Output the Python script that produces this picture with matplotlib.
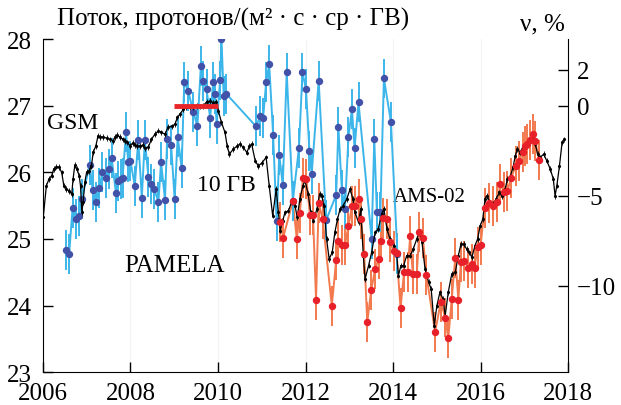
import numpy as np
import matplotlib.pyplot as plt
from matplotlib.ticker import NullLocator

FLUX_REF = 27.0  # flux that corresponds to nu = 0

# GSM (neutron monitor derived variation, %)
gsm_year = [
    2006.01, 2006.08, 2006.14, 2006.20, 2006.25, 2006.31, 2006.37, 2006.43, 2006.48, 2006.54,
    2006.60, 2006.66, 2006.69, 2006.73, 2006.78, 2006.83, 2006.86, 2006.89, 2006.92, 2006.96,
    2007.00, 2007.06, 2007.11, 2007.15, 2007.21, 2007.26, 2007.30, 2007.37, 2007.46, 2007.53,
    2007.61, 2007.65, 2007.70, 2007.76, 2007.82, 2007.87, 2007.93, 2007.99, 2008.05, 2008.10,
    2008.16, 2008.22, 2008.29, 2008.33, 2008.41, 2008.48, 2008.56, 2008.64, 2008.71, 2008.79,
    2008.86, 2008.94, 2009.02, 2009.07, 2009.13, 2009.21, 2009.28, 2009.36, 2009.44, 2009.51,
    2009.59, 2009.66, 2009.74, 2009.82, 2009.89, 2009.95, 2010.01, 2010.08, 2010.16, 2010.21,
    2010.26, 2010.35, 2010.44, 2010.50, 2010.58, 2010.66, 2010.72, 2010.77, 2010.85, 2010.92,
    2011.00, 2011.10, 2011.17, 2011.25, 2011.33, 2011.38, 2011.42, 2011.48, 2011.53, 2011.61,
    2011.68, 2011.76, 2011.81, 2011.87, 2011.94, 2011.99, 2012.06, 2012.12, 2012.18, 2012.26,
    2012.32, 2012.37, 2012.42, 2012.48, 2012.54, 2012.61, 2012.67, 2012.73, 2012.79, 2012.86,
    2012.94, 2013.02, 2013.08, 2013.13, 2013.21, 2013.26, 2013.32, 2013.36, 2013.44, 2013.51,
    2013.59, 2013.66, 2013.74, 2013.79, 2013.86, 2013.93, 2014.01, 2014.08, 2014.12, 2014.18,
    2014.24, 2014.31, 2014.39, 2014.46, 2014.54, 2014.60, 2014.66, 2014.73, 2014.81, 2014.87,
    2014.94, 2015.00, 2015.07, 2015.14, 2015.19, 2015.26, 2015.34, 2015.42, 2015.49, 2015.55,
    2015.61, 2015.68, 2015.74, 2015.80, 2015.87, 2015.93, 2015.99, 2016.05, 2016.10, 2016.14,
    2016.22, 2016.29, 2016.35, 2016.43, 2016.48, 2016.56, 2016.61, 2016.67, 2016.74, 2016.79,
    2016.84, 2016.90, 2016.96, 2017.02, 2017.07, 2017.13, 2017.19, 2017.25, 2017.30, 2017.36,
    2017.44, 2017.51, 2017.59, 2017.66, 2017.70, 2017.74, 2017.80, 2017.86, 2017.91,
]
gsm_nu = [
    -6.19, -4.45, -4.08, -3.89, -3.52, -3.39, -3.41, -3.71, -4.45, -4.63,
    -4.73, -4.91, -4.08, -3.30, -3.52, -3.89, -4.45, -5.91, -5.36, -4.24,
    -3.69, -3.62, -3.34, -2.58, -2.24, -1.67, -1.74, -1.73, -1.80, -1.86,
    -1.95, -1.74, -1.63, -1.74, -1.86, -1.95, -2.04, -2.23, -2.08, -2.19,
    -2.23, -2.23, -2.19, -2.36, -2.30, -1.86, -1.58, -1.39, -1.48, -1.58,
    -1.19, -1.15, -1.02, -0.65, -0.47, -0.19, -0.09, -0.09, -0.06, -0.01,
    -0.04, -0.01, 0.22, 0.26, 0.18, 0.22, -0.28, -0.93, -1.48, -2.23,
    -2.69, -2.41, -2.23, -2.13, -2.32, -2.60, -2.23, -2.13, -3.06, -3.34,
    -3.19, -2.87, -4.45, -6.12, -4.63, -5.93, -6.95, -6.39, -5.93, -5.84,
    -5.37, -5.56, -6.21, -5.19, -4.45, -4.17, -4.91, -5.93, -6.39, -5.74,
    -4.91, -5.01, -5.56, -7.41, -8.52, -8.15, -7.04, -6.30, -5.74, -5.56,
    -5.19, -4.63, -5.19, -5.93, -6.48, -5.74, -8.34, -9.63, -8.89, -8.15,
    -7.04, -6.86, -6.02, -5.74, -6.86, -7.41, -7.78, -8.15, -9.45, -8.89,
    -8.89, -8.34, -8.34, -7.97, -7.41, -7.04, -7.60, -9.08, -9.80, -10.19,
    -12.23, -11.12, -10.37, -10.74, -11.67, -10.37, -9.36, -9.26, -8.34, -7.69,
    -7.69, -7.97, -8.15, -8.43, -7.78, -7.41, -6.67, -6.30, -5.19, -5.01,
    -5.37, -5.47, -5.19, -4.82, -5.01, -4.63, -4.08, -3.98, -3.43, -2.78,
    -2.41, -2.60, -2.32, -2.23, -2.04, -1.86, -1.67, -2.13, -2.69, -2.87,
    -2.69, -3.06, -3.52, -4.08, -5.01, -4.45, -3.34, -2.04, -1.86,
]
GSM_ERR = 0.15

# PAMELA, 10 GV proton flux
pamela_year = [
    2006.54, 2006.60, 2006.68, 2006.75, 2006.83, 2006.89, 2007.07, 2007.14, 2007.21, 2007.29,
    2007.36, 2007.44, 2007.52, 2007.57, 2007.67, 2007.72, 2007.78, 2007.82, 2007.90, 2007.95,
    2008.00, 2008.10, 2008.18, 2008.26, 2008.33, 2008.41, 2008.48, 2008.54, 2008.64, 2008.70,
    2008.79, 2008.84, 2008.93, 2009.01, 2009.08, 2009.17, 2009.23, 2009.32, 2009.44, 2009.53,
    2009.61, 2009.66, 2009.74, 2009.82, 2009.89, 2009.93, 2009.97, 2010.05, 2010.08, 2010.13,
    2010.19,
    2010.87, 2010.96, 2011.03, 2011.10, 2011.17, 2011.26, 2011.34, 2011.40, 2011.48, 2011.57,
    2011.71, 2011.85, 2011.93, 2012.01, 2012.09, 2012.14, 2012.30, 2012.47, 2012.70, 2012.75,
    2012.83, 2012.90, 2012.98, 2013.06, 2013.12, 2013.21, 2013.51, 2013.57, 2013.63, 2013.71,
    2013.79, 2013.95, 2014.10,
]
pamela_flux = [
    24.84, 24.77, 25.47, 25.30, 25.35, 25.60, 26.11, 25.73, 25.55, 25.77,
    26.01, 25.92, 26.05, 26.22, 25.69, 25.87, 25.90, 25.91, 26.60, 26.15,
    26.17, 25.80, 26.49, 25.62, 26.49, 25.93, 25.82, 25.75, 25.56, 26.15,
    25.59, 26.50, 26.41, 25.60, 26.53, 26.07, 27.36, 27.22, 26.90, 26.69,
    27.60, 27.37, 27.25, 26.82, 27.35, 27.17, 26.73, 27.38, 28.00, 27.15,
    27.18,
    26.69, 26.84, 26.81, 27.35, 27.62, 26.56, 25.27, 26.26, 25.81, 27.50,
    25.57, 26.37, 27.50, 27.25, 26.32, 25.97, 27.37, 25.28, 25.66, 26.68,
    25.73, 25.45, 26.53, 26.95, 26.36, 27.05, 25.00, 26.50, 25.40, 25.40,
    27.41, 26.76, 24.77,
]
PAMELA_ERR = 0.3

# AMS-02, 10 GV proton flux
ams_year = [
    2011.42, 2011.49, 2011.71, 2011.80, 2011.87, 2011.94, 2012.02, 2012.10, 2012.17, 2012.24,
    2012.30, 2012.39, 2012.60, 2012.70, 2012.75, 2012.83, 2012.90, 2012.98, 2013.06, 2013.13,
    2013.21, 2013.27, 2013.34, 2013.41, 2013.50, 2013.59, 2013.67, 2013.73, 2013.78, 2013.85,
    2013.92, 2014.01, 2014.08, 2014.17, 2014.25, 2014.33, 2014.39, 2014.45, 2014.54, 2014.60,
    2014.68, 2014.76, 2014.96, 2015.09, 2015.19, 2015.26, 2015.34, 2015.42, 2015.49, 2015.55,
    2015.63, 2015.72, 2015.80, 2015.86, 2015.93, 2016.00, 2016.09, 2016.18, 2016.28, 2016.38,
    2016.45, 2016.54, 2016.61, 2016.70, 2016.80, 2016.88, 2016.96, 2017.01, 2017.07, 2017.13,
    2017.20, 2017.25, 2017.33,
]
ams_flux = [
    25.26, 25.02, 25.57, 25.00, 25.39, 25.91, 25.90, 25.36, 25.36, 24.09,
    25.54, 25.30, 24.00, 24.68, 24.97, 24.91, 24.91, 25.19, 25.49, 25.49,
    25.60, 25.30, 24.77, 23.75, 24.23, 24.55, 24.70, 24.97, 25.32, 25.30,
    24.96, 24.82, 24.79, 23.96, 24.50, 24.50, 25.04, 24.47, 24.47, 25.10,
    25.02, 24.46, 23.60, 24.06, 23.82, 23.51, 24.10, 24.72, 24.09, 24.65,
    24.67, 24.56, 24.62, 24.56, 24.88, 24.91, 25.47, 25.54, 25.50, 25.55,
    25.83, 25.70, 25.72, 25.92, 26.10, 26.17, 26.30, 26.40, 26.43, 26.49,
    26.57, 26.47, 26.19,
]
AMS_ERR = 0.3

norm_period = [2009.0, 2010.0]
year_ticks = [2006, 2008, 2010, 2012, 2014, 2016, 2018]
flux_ticks = [23, 24, 25, 26, 27, 28]
nu_ticks = [2, 0, -5, -10]


def to_nu(f):
    return (np.asarray(f) / FLUX_REF - 1.0) * 100.0


def to_flux(n):
    return FLUX_REF * (1.0 + np.asarray(n) / 100.0)


plt.rcParams['font.family'] = ['Liberation Serif', 'DejaVu Serif']
plt.rcParams['font.size'] = 18

fig = plt.figure(figsize=(6.21, 4.06), dpi=100)
ax = fig.add_axes([0.069, 0.081, 0.846, 0.820])

ax.grid(axis='x', color='#f4f4f4', lw=0.8, zorder=0)

# AMS-02
ax.errorbar(ams_year, ams_flux, yerr=AMS_ERR, color='#f27a4e', lw=1.4,
            elinewidth=1.4, capsize=0, zorder=2)
# PAMELA
ax.errorbar(pamela_year, pamela_flux, yerr=PAMELA_ERR, color='#3cb6ea', lw=1.4,
            elinewidth=1.4, capsize=0, zorder=3)
ax.plot(pamela_year, pamela_flux, 'o', color='#4152a8', ms=4.3, zorder=4)
# GSM
ax.errorbar(gsm_year, to_flux(gsm_nu), yerr=FLUX_REF * GSM_ERR / 100, color='black',
            lw=0.9, marker='.', ms=2.5, elinewidth=0.6, capsize=0, zorder=5)
ax.plot(ams_year, ams_flux, 'o', color='#e8202a', ms=4.3, zorder=6)
# normalisation interval
ax.plot(norm_period, [FLUX_REF, FLUX_REF], color='#e8262a', lw=3.5,
        solid_capstyle='butt', zorder=6)

ax.set_xlim(2006, 2018)
ax.set_ylim(23, 28)
ax.set_xticks(year_ticks)
ax.set_yticks(flux_ticks)
ax.tick_params(direction='in', length=7, width=1, right=False, top=False)
ax.tick_params(axis='x', pad=7)
ax.tick_params(axis='y', pad=8)
ax.spines['top'].set_visible(False)
ax.spines['right'].set_visible(False)

sec = ax.secondary_yaxis('right', functions=(to_nu, to_flux))
sec.set_yticks(nu_ticks)
sec.yaxis.set_minor_locator(NullLocator())
sec.tick_params(direction='in', length=7, width=1, pad=6)

ax.text(2006.1, 26.75, 'GSM', fontsize=17, va='center')
ax.text(2009.52, 25.82, '10 ГВ', fontsize=17, va='center')
ax.text(2007.87, 24.61, 'PAMELA', fontsize=18, va='center')
ax.text(2014.0, 25.64, 'AMS-02', fontsize=15, va='center')

fig.text(0.092, 0.952, 'Поток, протонов/(м² · с · ср · ГВ)', fontsize=18, va='center')
fig.text(0.838, 0.94, 'ν, %', fontsize=18, va='center')

fig.savefig('out.png', dpi=100)
